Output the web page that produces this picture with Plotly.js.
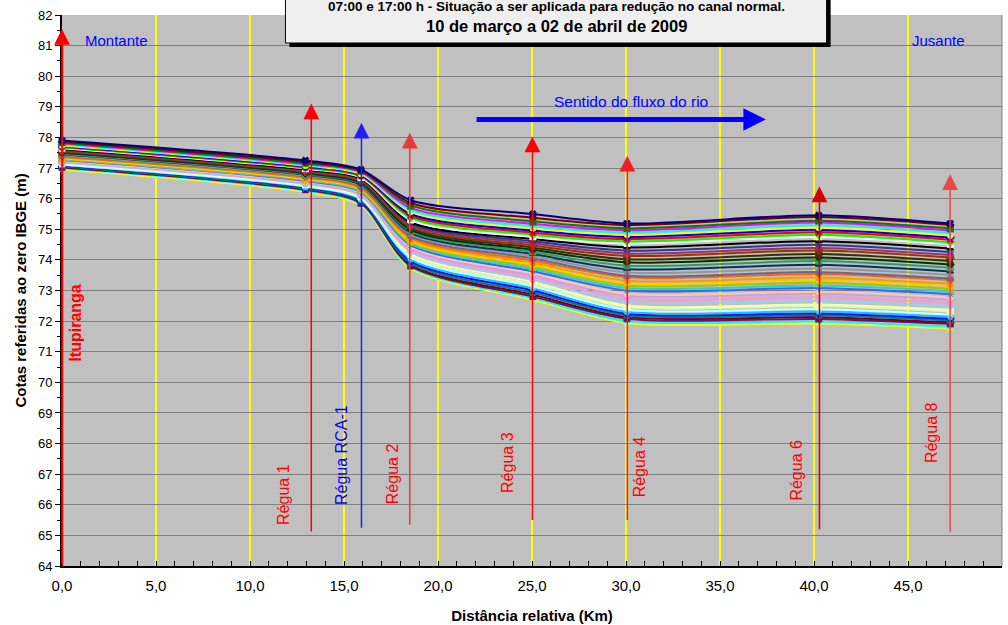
<!DOCTYPE html>
<html>
<head>
<meta charset="utf-8">
<script src="https://cdn.plot.ly/plotly-3.0.1.min.js"></script>
<style>
html,body{margin:0;padding:0;background:#ffffff;}
#chart{width:1008px;height:625px;}
</style>
</head>
<body>
<div id="chart"></div>
<script>
// ---------- DATA ----------
// distance (km) of each measuring station along the river
const stationKm = [0, 12.95, 15.9, 18.55, 25.05, 30.05, 40.25, 47.25];

// water levels (m, IBGE) per station, one value per profile (lowest profile first)
const itupiranga = [76.95,76.99,77.02,77.04,77.06,77.08,77.10,77.12,77.14,77.16,
                    77.18,77.20,77.22,77.24,77.26,77.28,77.30,77.32,77.35,77.37,
                    77.40,77.42,77.45,77.47,77.50,77.52,77.55,77.57,77.60,77.62,
                    77.65,77.67,77.70,77.72,77.74,77.77,77.80,77.83,77.86,77.90];
const regua1 = [76.22,76.26,76.29,76.31,76.33,76.36,76.38,76.41,76.43,76.46,
                76.48,76.50,76.53,76.55,76.58,76.60,76.63,76.65,76.68,76.70,
                76.73,76.75,76.78,76.80,76.83,76.85,76.88,76.90,76.93,76.95,
                76.98,77.00,77.03,77.05,77.08,77.10,77.13,77.16,77.20,77.25];
const rca1 = [75.78,75.82,75.85,75.88,75.91,75.94,75.97,76.00,76.03,76.06,
              76.09,76.12,76.15,76.18,76.21,76.24,76.27,76.30,76.33,76.36,
              76.39,76.42,76.45,76.48,76.51,76.54,76.57,76.60,76.63,76.66,
              76.69,76.72,76.75,76.78,76.81,76.84,76.87,76.90,76.92,76.95];
const regua2 = [73.72,73.76,73.80,73.84,73.90,73.96,74.02,74.08,74.14,74.20,
                74.26,74.32,74.38,74.43,74.48,74.53,74.58,74.63,74.68,74.73,
                74.78,74.83,74.88,74.93,74.98,75.03,75.08,75.13,75.18,75.23,
                75.30,75.37,75.44,75.50,75.57,75.63,75.70,75.78,75.86,75.95];
const regua3 = [72.70,72.75,72.80,72.86,72.93,73.00,73.07,73.14,73.21,73.28,
                73.35,73.42,73.49,73.56,73.63,73.70,73.77,73.84,73.91,73.98,
                74.05,74.12,74.19,74.26,74.33,74.40,74.47,74.54,74.61,74.68,
                74.75,74.82,74.89,74.96,75.03,75.10,75.18,75.26,75.38,75.50];
const regua4 = [71.94,72.00,72.08,72.13,72.19,72.24,72.30,72.37,72.46,72.51,
                72.62,72.73,72.84,72.89,73.00,73.08,73.16,73.24,73.32,73.43,
                73.48,73.59,73.70,73.81,73.92,74.02,74.13,74.21,74.30,74.41,
                74.54,74.60,74.68,74.75,74.82,74.89,74.97,75.03,75.14,75.19];
const regua6 = [71.92,71.99,72.07,72.13,72.19,72.25,72.31,72.39,72.49,72.54,
                72.66,72.78,72.90,72.96,73.08,73.16,73.25,73.34,73.42,73.54,
                73.60,73.72,73.84,73.96,74.08,74.19,74.31,74.39,74.49,74.61,
                74.75,74.82,74.90,74.98,75.05,75.13,75.22,75.28,75.40,75.46];
const regua8 = [71.76,71.82,71.91,71.96,72.02,72.08,72.14,72.22,72.31,72.37,
                72.48,72.60,72.71,72.77,72.88,72.97,73.05,73.14,73.22,73.34,
                73.39,73.51,73.62,73.74,73.85,73.96,74.08,74.16,74.26,74.37,
                74.51,74.57,74.66,74.73,74.80,74.88,74.96,75.03,75.14,75.19];

// reference gauges (vertical arrows)
const gaugeNames  = ['Itupiranga','Régua 1','Régua RCA-1','Régua 2','Régua 3','Régua 4','Régua 6','Régua 8'];
const gaugeKm     = [0, 13.26, 15.93, 18.5, 25.02, 30.07, 40.29, 47.24];
const gaugeTop    = [81.54, 79.11, 78.48, 78.15, 78.03, 77.40, 76.40, 76.80];
const gaugeBottom = [64.0, 65.08, 65.2, 65.3, 65.45, 65.45, 65.15, 65.06];

// flow direction arrow
const flowStartKm = 21.97;
const flowEndKm = 37.44;
const flowLevel = 78.59;

const xTickStep = 5;

// ---------- STYLE ----------
const seriesColors = ['#FFFF00','#00FFFF','#800080','#800000','#008080','#0000FF','#00CCFF','#CCFFFF',
  '#CCFFCC','#FFFF99','#99CCFF','#FF99CC','#CC99FF','#FFCC99','#3366FF','#33CCCC',
  '#99CC00','#FFCC00','#FF9900','#FF6600','#666699','#969696','#003366','#339966',
  '#003300','#333300','#993300','#993366','#333399','#000000','#FFFFFF','#00FF00',
  '#FF0000','#0000FF','#FFFF00','#00FFFF','#FF00FF','#008000','#800000','#000080'];
const symbolCycle = ['x','diamond','square','triangle-up','asterisk','circle','cross'];
const gaugeColors = ['#FF0000','#FF0000','#2020F0','#E83A3A','#FF0000','#F02020','#D00000','#E84848'];
const gaugeLabelColors = ['#FF0000','#FF0000','#0000FF','#FF0000','#FF0000','#FF0000','#FF0000','#FF0000'];
const gaugeLabelX = [0.71, 11.77, 14.83, 17.55, 23.73, 30.72, 39.08, 46.29];
const gaugeLabelY = [71.93, 66.33, 67.62, 67.03, 67.37, 67.24, 67.14, 68.35];

const FONT = 'Arial, "Liberation Sans", Helvetica, sans-serif';

// ---------- TRACES ----------
const stations = [itupiranga, regua1, rca1, regua2, regua3, regua4, regua6, regua8];
const nSeries = itupiranga.length;
const traces = [];
for (let i = 0; i < nSeries; i++) {
  const col = seriesColors[i % seriesColors.length];
  const sym = symbolCycle[(nSeries - 1 - i) % symbolCycle.length];
  traces.push({
    type: 'scatter',
    mode: 'lines+markers',
    x: stationKm,
    y: stations.map(a => a[i]),
    line: {color: col, width: 2, shape: 'spline', smoothing: 0.8},
    marker: {symbol: sym, size: 6, color: col, line: {color: col, width: 1}},
    cliponaxis: false,
    hoverinfo: 'skip',
    showlegend: false
  });
}
// Itupiranga gauge line sits on the y axis: draw it as an unclipped trace
traces.push({
  type: 'scatter', mode: 'lines',
  x: [gaugeKm[0], gaugeKm[0]], y: [gaugeBottom[0], gaugeTop[0] - 0.3],
  line: {color: gaugeColors[0], width: 2.5},
  cliponaxis: false, hoverinfo: 'skip', showlegend: false
});

// ---------- ANNOTATIONS ----------
const annotations = [];
for (let g = 0; g < gaugeNames.length; g++) {
  annotations.push({
    xref: 'x', yref: 'y', axref: 'x', ayref: 'y',
    x: gaugeKm[g], y: gaugeTop[g], ax: gaugeKm[g], ay: gaugeBottom[g],
    text: '', showarrow: true, arrowhead: 2, arrowsize: 2.1, arrowwidth: 1.5,
    arrowcolor: gaugeColors[g], standoff: 0, startstandoff: 0
  });
  annotations.push({
    xref: 'x', yref: 'y', x: gaugeLabelX[g], y: gaugeLabelY[g],
    text: gaugeNames[g], showarrow: false, textangle: -90,
    xanchor: 'center', yanchor: 'middle',
    font: {family: FONT, size: 16, color: gaugeLabelColors[g], weight: g === 0 ? 'bold' : 'normal'}
  });
}
// flow arrow
annotations.push({
  xref: 'x', yref: 'y', axref: 'x', ayref: 'y',
  x: flowEndKm, y: flowLevel, ax: flowStartKm, ay: flowLevel,
  text: '', showarrow: true, arrowhead: 2, arrowsize: 0.9, arrowwidth: 5,
  arrowcolor: '#0000FF', standoff: 0
});
annotations.push({
  xref: 'x', yref: 'y', x: 30.24, y: 79.16, text: 'Sentido do fluxo do rio',
  showarrow: false, font: {family: FONT, size: 15.5, color: '#0000FF'}
});
annotations.push({
  xref: 'x', yref: 'y', x: 2.88, y: 81.18, text: 'Montante',
  showarrow: false, font: {family: FONT, size: 15, color: '#0000FF'}
});
annotations.push({
  xref: 'x', yref: 'y', x: 46.61, y: 81.18, text: 'Jusante',
  showarrow: false, font: {family: FONT, size: 15, color: '#0000FF'}
});
// title box texts
annotations.push({
  xref: 'paper', yref: 'paper', x: 0.5256, y: 1.0163, xanchor: 'center', yanchor: 'middle',
  text: '07:00 e 17:00 h - Situação a ser aplicada para redução no canal normal.',
  showarrow: false, font: {family: FONT, size: 13.5, color: '#000000', weight: 'bold'}
});
annotations.push({
  xref: 'paper', yref: 'paper', x: 0.5256, y: 0.9800, xanchor: 'center', yanchor: 'middle',
  text: '10 de março a 02 de abril de 2009',
  showarrow: false, font: {family: FONT, size: 16.5, color: '#000000', weight: 'bold'}
});

const shapes = [
  // right frame edge
  {type: 'line', xref: 'paper', yref: 'paper', x0: 1, x1: 1, y0: 0, y1: 1,
   line: {color: '#808080', width: 1}, layer: 'above'},
  // title box shadow
  {type: 'rect', xref: 'paper', yref: 'paper', x0: 0.2420, x1: 0.8177, y0: 0.9419, y1: 1.1,
   fillcolor: '#000000', line: {width: 0}, layer: 'above'},
  // title box
  {type: 'rect', xref: 'paper', yref: 'paper', x0: 0.2377, x1: 0.8134, y0: 0.9492, y1: 1.1,
   fillcolor: '#EFEFEF', line: {color: '#000000', width: 1}, layer: 'above'}
];

const layout = {
  width: 1008, height: 625,
  margin: {l: 62, r: 6, t: 15, b: 59, pad: 0},
  paper_bgcolor: '#FFFFFF',
  plot_bgcolor: '#C0C0C0',
  separators: ',.',
  showlegend: false,
  hovermode: false,
  font: {family: FONT, color: '#000000', size: 13},
  xaxis: {
    range: [0, 50], tickmode: 'linear', tick0: 0, dtick: xTickStep, tickformat: '.1f',
    showgrid: true, gridcolor: '#FFFF00', gridwidth: 1.5,
    showline: true, linecolor: '#000000', linewidth: 2,
    ticks: 'inside', ticklen: 5, tickcolor: '#000000', tickwidth: 1,
    minor: {dtick: 1, ticks: 'inside', ticklen: 5, tickcolor: '#000000', showgrid: false},
    zeroline: false, ticklabelstandoff: 5,
    tickfont: {family: FONT, size: 15, color: '#000000'},
    title: {text: 'Distância relativa (Km)', standoff: 17,
            font: {family: FONT, size: 15, color: '#000000', weight: 'bold'}}
  },
  yaxis: {
    range: [64, 82], tickmode: 'linear', tick0: 64, dtick: 1,
    showgrid: true, gridcolor: '#808080', gridwidth: 1,
    showline: true, linecolor: '#000000', linewidth: 2,
    ticks: 'outside', ticklen: 5, tickcolor: '#000000', tickwidth: 1,
    minor: {dtick: 0.5, ticks: 'outside', ticklen: 3, tickcolor: '#000000', showgrid: false},
    zeroline: false, layer: 'below traces',
    tickfont: {family: FONT, size: 13, color: '#000000'},
    title: {text: 'Cotas referidas ao zero IBGE (m)', standoff: 8,
            font: {family: FONT, size: 15, color: '#000000', weight: 'bold'}}
  },
  annotations: annotations,
  shapes: shapes
};

Plotly.newPlot('chart', traces, layout, {displayModeBar: false, staticPlot: true});
</script>
</body>
</html>
